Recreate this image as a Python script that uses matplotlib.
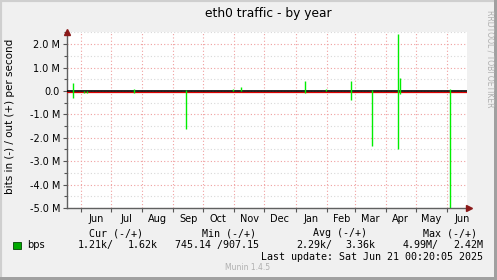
import numpy as np
import matplotlib
matplotlib.use("Agg")
import matplotlib.pyplot as plt
import matplotlib.dates as mdates
from matplotlib.patches import Rectangle

# spike dates and peak values (bits per second), out is positive, in is negative
spike_days = np.array(['2024-05-24', '2024-06-04', '2024-06-07', '2024-07-24', '2024-09-14',
                       '2024-10-31', '2024-11-08', '2025-01-10', '2025-01-31', '2025-02-25',
                       '2025-03-18', '2025-04-13', '2025-04-15', '2025-06-04'], dtype='datetime64[D]')
out_vals = np.array([0.33e6, 0.0, 0.0, 0.1e6, 0.05e6, 0.1e6, 0.15e6, 0.42e6, 0.1e6, 0.42e6,
                     0.03e6, 2.42e6, 0.56e6, 0.1e6])
in_vals = np.array([0.28e6, 0.08e6, 0.1e6, 0.08e6, 1.62e6, 0.0, 0.0, 0.08e6, 0.0, 0.37e6,
                    2.33e6, 2.48e6, 0.15e6, 4.99e6])

yticks = [2e6, 1e6, 0, -1e6, -2e6, -3e6, -4e6, -5e6]
ylabels = ['2.0 M', '1.0 M', '0.0', '-1.0 M', '-2.0 M', '-3.0 M', '-4.0 M', '-5.0 M']

start = np.datetime64('2024-05-18')
end = np.datetime64('2025-06-21')

W, H = 497, 280
fig = plt.figure(figsize=(W / 100, H / 100), dpi=100, facecolor='#f0f0f0')

def fx(px):
    return px / W

def fy(py):
    return 1 - py / H

# outer border, light top/left and dark bottom/right
fig.patches.append(Rectangle((0, 0), 1, 1, transform=fig.transFigure, fill=False,
                             ec='#cfcfcf', lw=3, zorder=0))
fig.patches.append(Rectangle((fx(0), 0), 1, fy(277), transform=fig.transFigure,
                             fc='#a0a0a0', ec='none', zorder=0))
fig.patches.append(Rectangle((fx(494), 0), fx(3), 1, transform=fig.transFigure,
                             fc='#a0a0a0', ec='none', zorder=0))

ax = fig.add_axes([fx(67), fy(208), fx(400), (208 - 32) / H])
ax.set_facecolor('white')

# grid
for v in np.arange(-5e6, 2.6e6, 0.5e6):
    major = abs(v / 1e6 - round(v / 1e6)) < 1e-9
    ax.axhline(v, color='#f0a0a0' if major else '#d8d8d8', lw=0.8,
               ls=(0, (1, 2)), zorder=1)
months = np.arange(np.datetime64('2024-06'), np.datetime64('2025-07'), dtype='datetime64[M]')
for m in months:
    ax.axvline(m.astype('datetime64[D]'), color='#f0a0a0', lw=0.8, ls=(0, (1, 2)), zorder=1)

# zero lines
ax.axhline(-0.04e6, color='#dd0000', lw=0.9, zorder=3)
ax.axhline(0, color='black', lw=1.2, zorder=4)

# spikes
ax.vlines(spike_days, -in_vals, out_vals, color='#00ee00', lw=1.0, zorder=5)

ax.set_xlim(start, end)
ax.set_ylim(-5.0e6, 2.52e6)

ax.set_yticks(yticks)
ax.set_yticklabels(ylabels)
ax.yaxis.set_minor_locator(matplotlib.ticker.MultipleLocator(0.5e6))

ax.xaxis.set_major_locator(mdates.MonthLocator(bymonthday=1))
ax.xaxis.set_major_formatter(matplotlib.ticker.NullFormatter())
ax.xaxis.set_minor_locator(mdates.MonthLocator(bymonthday=16))
ax.xaxis.set_minor_formatter(mdates.DateFormatter('%b'))

ax.tick_params(axis='both', which='both', labelsize=7, colors='#555555', labelcolor='black',
               direction='out', width=0.8)
ax.tick_params(axis='x', which='major', length=3)
ax.tick_params(axis='x', which='minor', length=0, pad=4)
ax.tick_params(axis='y', which='major', length=3, pad=2)
ax.tick_params(axis='y', which='minor', length=2)

for s in ['top', 'right']:
    ax.spines[s].set_visible(False)
for s in ['left', 'bottom']:
    ax.spines[s].set_color('#606060')
    ax.spines[s].set_linewidth(1.0)

# axis arrows
ax.plot([0], [1.0], marker='^', color='#8b1a1a', ms=5, transform=ax.transAxes, clip_on=False, zorder=6)
ax.plot([1.005], [0], marker='>', color='#8b1a1a', ms=5, transform=ax.transAxes, clip_on=False, zorder=6)

# titles
fig.text(fx(268), fy(13), 'eth0 traffic - by year', ha='center', va='center', fontsize=8.8)
fig.text(fx(10), fy(116), 'bits in (-) / out (+) per second', rotation=90,
         ha='center', va='center', fontsize=7.5)
fig.text(fx(490), fy(59), 'RRDTOOL / TOBI OETIKER', rotation=270, ha='center', va='center',
         fontsize=5.5, color='#b0b0b0')

# legend
mono = dict(family='DejaVu Sans Mono', fontsize=7.2)
fig.patches.append(Rectangle((fx(13), fy(249)), fx(8), 7 / H, transform=fig.transFigure,
                             fc='#00aa00', ec='#004400', lw=0.6))
fig.text(fx(27), fy(245), 'bps', va='center', fontsize=7)
fig.text(fx(89), fy(233), 'Cur (-/+)', va='center', **mono)
fig.text(fx(202), fy(233), 'Min (-/+)', va='center', **mono)
fig.text(fx(313), fy(233), 'Avg (-/+)', va='center', **mono)
fig.text(fx(423), fy(233), 'Max (-/+)', va='center', **mono)
fig.text(fx(78), fy(245), '1.21k/', va='center', **mono)
fig.text(fx(158), fy(245), '1.62k', va='center', ha='right', **mono)
fig.text(fx(175), fy(245), '745.14 /907.15', va='center', **mono)
fig.text(fx(296), fy(245), '2.29k/', va='center', **mono)
fig.text(fx(375), fy(245), '3.36k', va='center', ha='right', **mono)
fig.text(fx(403), fy(245), '4.99M/', va='center', **mono)
fig.text(fx(483), fy(245), '2.42M', va='center', ha='right', **mono)
fig.text(fx(483), fy(257), 'Last update: Sat Jun 21 00:20:05 2025', va='center', ha='right', **mono)
fig.text(fx(225), fy(268), 'Munin 1.4.5', va='center', fontsize=5.5, color='#b0b0b0')

fig.savefig('out.png', dpi=100, facecolor=fig.get_facecolor())
